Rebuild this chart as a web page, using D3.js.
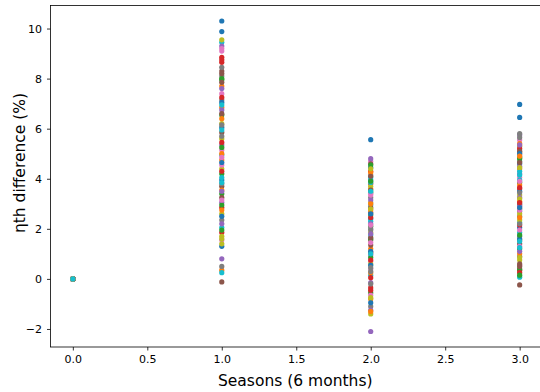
<!DOCTYPE html>
<html>
<head>
<meta charset="utf-8">
<script src="https://cdn.jsdelivr.net/npm/d3@7"></script>
<style>
  html, body { margin: 0; padding: 0; background: #fff; }
  svg { display: block; font-family: "DejaVu Sans", sans-serif; }
</style>
</head>
<body>
<svg id="chart" width="540" height="392"></svg>
<script>
// Seasons on the x axis (each season = 6 months)
const seasons = [0, 1, 2, 3];

// ηth difference (%) per series; every series starts at 0 in season 0
const season0 = new Array(80).fill(0);
const season1 = [
  10.30, 6.85, 4.20, 8.65, 3.05, -0.12, 7.40, 2.35, 5.60, 9.45,
  9.88, 4.75, 7.95, 1.85, 0.80, 3.70, 5.15, 8.10, 2.60, 4.95,
  6.05, 0.35, 3.40, 8.85, 9.30, 5.85, 1.55, 7.15, 4.40, 2.05,
  3.95, 7.70, 6.55, 2.85, 5.35, 8.30, 9.10, 0.50, 6.20, 4.05,
  1.30, 5.00, 2.95, 7.25, 6.75, 3.25, 4.55, 8.45, 1.70, 0.25,
  7.05, 3.55, 8.00, 5.45, 2.20, 6.60, 4.85, 3.80, 9.55, 5.95,
  2.50, 6.40, 1.95, 4.30, 7.60, 8.20, 3.15, 5.70, 1.40, 6.95,
  4.65, 2.75, 5.25, 8.75, 3.50, 7.85, 9.20, 6.15, 1.60, 3.85
];
const season2 = [
  5.56, 1.20, 3.45, -0.35, -2.10, 2.65, 0.40, 4.15, 1.85, 2.95,
  4.45, -0.80, 2.10, 3.80, 0.95, 1.55, 4.70, -1.10, 3.05, 0.15,
  2.40, 3.60, -0.55, 1.05, 4.80, 2.85, 0.70, 3.25, -1.40, 1.75,
  3.95, 0.25, 2.55, 4.30, -0.15, 1.35, 3.40, 2.00, 0.60, 4.05,
  -0.95, 2.75, 1.60, 0.05, 3.15, 4.60, -0.65, 1.95, 3.70, 2.30,
  1.10, 4.25, 0.85, 2.45, -1.25, 3.55, 1.45, 0.30, 2.80, 3.85,
  0.55, 3.00, 4.55, -0.45, 2.20, 1.65, 3.35, -0.20, 4.40, 1.00,
  2.60, -1.30, 3.90, 0.75, 1.80, 4.10, 2.15, 0.45, -0.75, 3.50
];
const season3 = [
  6.97, 3.10, 4.85, 1.55, 2.70, -0.24, 4.05, 0.90, 5.30, 2.25,
  6.45, 4.40, 1.20, 3.60, 5.75, 2.95, 0.55, 4.70, 3.35, 1.85,
  2.05, 5.05, 3.85, 0.35, 4.20, 1.40, 5.55, 2.50, 0.75, 3.95,
  4.60, 1.00, 2.80, 5.20, 3.25, 0.60, 4.95, 1.70, 2.35, 0.07,
  3.50, 5.40, 0.40, 2.15, 4.50, 3.00, 1.30, 5.65, 2.60, 4.15,
  1.60, 3.75, 4.80, 0.25, 2.90, 5.10, 1.95, 3.45, 0.85, 4.30,
  5.00, 2.45, 0.15, 3.65, 1.10, 4.65, 2.75, 5.80, 3.20, 1.50,
  2.85, 4.90, 1.75, 3.05, 5.35, 0.50, 3.90, 2.20, 4.45, 1.25
];

const xTicks = [0.0, 0.5, 1.0, 1.5, 2.0, 2.5, 3.0];
const yTicks = [-2, 0, 2, 4, 6, 8, 10];

const palette = d3.schemeCategory10;

// one series per index, points across the four seasons
const columns = [season0, season1, season2, season3];
const series = d3.range(season1.length).map(i =>
  seasons.map((s, k) => ({ season: s, value: columns[k][i] }))
);

const svg = d3.select("#chart");
const plot = { left: 50.5, top: 5.5, right: 542, bottom: 347 };

const x = d3.scaleLinear().domain([-0.15, 3.15]).range([plot.left, plot.right]);
const y = d3.scaleLinear().domain([-2.72, 10.92]).range([plot.bottom, plot.top]);

// points, drawn series by series so later series sit on top
const g = svg.append("g");
series.forEach((pts, i) => {
  g.selectAll(null)
    .data(pts)
    .join("circle")
    .attr("cx", d => x(d.season))
    .attr("cy", d => y(d.value))
    .attr("r", 2.6)
    .attr("fill", palette[i % 10]);
});

// axes
const xAxis = d3.axisBottom(x).tickValues(xTicks).tickFormat(d3.format(".1f"))
  .tickSize(3.5).tickPadding(4.5);
const yAxis = d3.axisLeft(y).tickValues(yTicks).tickFormat(d => d < 0 ? "\u2212" + Math.abs(d) : d)
  .tickSize(3.5).tickPadding(5);

const gx = svg.append("g").attr("transform", `translate(0,${plot.bottom})`).call(xAxis);
const gy = svg.append("g").attr("transform", `translate(${plot.left},0)`).call(yAxis);
[gx, gy].forEach(a => {
  a.select(".domain").remove();
  a.selectAll(".tick line").attr("stroke", "#000").attr("stroke-width", 0.8);
  a.selectAll(".tick text").attr("fill", "#000").attr("font-size", 11)
    .attr("font-family", "DejaVu Sans, sans-serif");
});

// frame
svg.append("rect")
  .attr("x", plot.left).attr("y", plot.top)
  .attr("width", plot.right - plot.left).attr("height", plot.bottom - plot.top)
  .attr("fill", "none").attr("stroke", "#000").attr("stroke-width", 0.8);

// axis titles
svg.append("text")
  .attr("x", (plot.left + plot.right) / 2 - 1).attr("y", 386)
  .attr("text-anchor", "middle").attr("font-size", 15.5).attr("fill", "#000")
  .text("Seasons (6 months)");
svg.append("text")
  .attr("transform", `translate(25,163) rotate(-90)`)
  .attr("text-anchor", "middle").attr("font-size", 15.5).attr("fill", "#000")
  .text("ηth difference (%)");
</script>
</body>
</html>
